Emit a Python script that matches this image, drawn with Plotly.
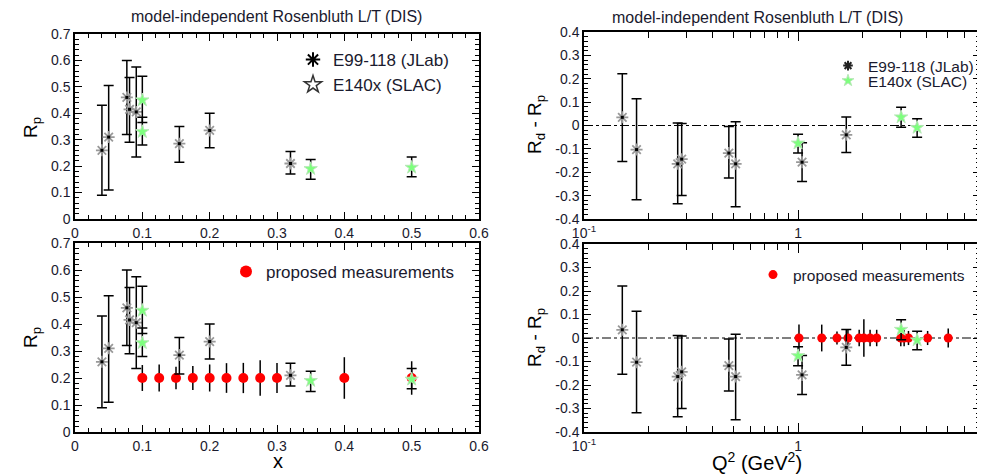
import plotly.graph_objects as go

# ---------------- data: R_p vs x ----------------
x_jlab = [0.04, 0.05, 0.077, 0.081, 0.091, 0.155, 0.2, 0.32]
R_jlab = [0.26, 0.31, 0.46, 0.415, 0.405, 0.285, 0.335, 0.21]
hi_jlab = [0.43, 0.505, 0.60, 0.535, 0.575, 0.35, 0.40, 0.255]
lo_jlab = [0.09, 0.11, 0.32, 0.29, 0.235, 0.215, 0.27, 0.17]

x_slac = [0.1, 0.1, 0.35, 0.5]
R_slac = [0.45, 0.33, 0.19, 0.195]
hi_slac = [0.54, 0.385, 0.225, 0.235]
lo_slac = [0.365, 0.28, 0.15, 0.16]

x_prop = [0.1, 0.125, 0.15, 0.175, 0.2, 0.225, 0.25, 0.275, 0.3, 0.4, 0.5]
R_prop = [0.2, 0.2, 0.2, 0.2, 0.2, 0.2, 0.2, 0.2, 0.2, 0.2, 0.2]
err_prop = [0.048, 0.05, 0.042, 0.044, 0.05, 0.055, 0.056, 0.066, 0.056, 0.077, 0.062]

# ---------------- data: R_d - R_p vs Q^2 ----------------
q2_jlab = [0.151, 0.176, 0.274, 0.286, 0.475, 0.511, 1.044, 1.68]
d_jlab = [0.035, -0.103, -0.164, -0.144, -0.118, -0.164, -0.157, -0.04]
dhi_jlab = [0.221, 0.114, 0.011, 0.009, -0.004, 0.016, -0.074, 0.036]
dlo_jlab = [-0.154, -0.318, -0.335, -0.30, -0.225, -0.348, -0.24, -0.116]

q2_slac = [1.0, 3.03, 3.6]
d_slac = [-0.076, 0.036, -0.009]
dhi_slac = [-0.037, 0.078, 0.029]
dlo_slac = [-0.118, -0.007, -0.05]

q2_prop = [1.01, 1.29, 1.52, 1.71, 1.93, 2.03, 2.17, 2.33, 3.02, 3.13, 3.28, 4.03, 5.03]
d_prop = [0, 0, 0, 0, 0, 0, 0, 0, 0, 0, 0, 0, 0]
derr_prop = [0.057, 0.057, 0.028, 0.035, 0.035, 0.08, 0.035, 0.035, 0.035, 0.035, 0.03, 0.03, 0.04]

title_text = "model-independent Rosenbluth L/T (DIS)"
y_ticks_right = [-0.4, -0.3, -0.2, -0.1, 0, 0.1, 0.2, 0.3, 0.4]
y_ticktext_right = ["-0.4", "-0.3", "-0.2", "-0.1", "0", "0.1", "0.2", "0.3", "0.4"]
q2_ticks = [0.1, 1]
q2_ticktext = ["10<sup>-1</sup>", "1"]
q2_minor = [0.2, 0.3, 0.4, 0.5, 0.6, 0.7, 0.8, 0.9, 2, 3, 4, 5, 6, 7]

# the page body has an 8px margin, so the figure is sized to fill the rest of the window
OFF = 8
W, H = 985 - OFF, 476 - OFF
FONT = "Liberation Sans, Arial, sans-serif"
GRAY = "#999999"
GREEN = "#7dff7d"
TXT = "#1a1a2e"


def px(v):
    return (v - OFF) / W


def py(v):
    return 1 - (v - OFF) / H


def errs(y, hi, lo):
    return [h - c for h, c in zip(hi, y)], [c - l for c, l in zip(y, lo)]


fig = go.Figure()


def add_data(xs, ys, hi, lo, xa, ya, cap):
    ep, em = errs(ys, hi, lo)
    fig.add_trace(go.Scatter(
        x=xs, y=ys, mode="markers", xaxis=xa, yaxis=ya, showlegend=False,
        marker=dict(symbol="asterisk-open", size=10, color=GRAY, line=dict(color=GRAY, width=1.8)),
        error_y=dict(type="data", symmetric=False, array=ep, arrayminus=em,
                     color="black", thickness=1.5, width=cap)))
    fig.add_trace(go.Scatter(
        x=xs, y=ys, mode="markers", xaxis=xa, yaxis=ya, showlegend=False,
        marker=dict(symbol="square", size=3, color="black")))


def add_slac(xs, ys, hi, lo, xa, ya, cap):
    ep, em = errs(ys, hi, lo)
    fig.add_trace(go.Scatter(
        x=xs, y=ys, mode="markers", xaxis=xa, yaxis=ya, showlegend=False,
        marker=dict(symbol="star", size=10, color=GREEN, line=dict(color="#b8e8b8", width=1)),
        error_y=dict(type="data", symmetric=False, array=ep, arrayminus=em,
                     color="black", thickness=1.5, width=cap)))


def add_prop(xs, ys, er, xa, ya, size):
    fig.add_trace(go.Scatter(
        x=xs, y=ys, mode="markers", xaxis=xa, yaxis=ya, showlegend=False,
        marker=dict(symbol="circle", size=size, color="#ff0000"),
        error_y=dict(type="data", array=er, color="black", thickness=1.5, width=0)))


# left top
add_data(x_jlab, R_jlab, hi_jlab, lo_jlab, "x", "y", 5)
add_slac(x_slac, R_slac, hi_slac, lo_slac, "x", "y", 5)
# left bottom
add_prop(x_prop, R_prop, err_prop, "x2", "y2", 10)
add_data(x_jlab, R_jlab, hi_jlab, lo_jlab, "x2", "y2", 5)
add_slac(x_slac, R_slac, hi_slac, lo_slac, "x2", "y2", 5)
# right top
add_data(q2_jlab, d_jlab, dhi_jlab, dlo_jlab, "x3", "y3", 5)
add_slac(q2_slac, d_slac, dhi_slac, dlo_slac, "x3", "y3", 5)
# right bottom
add_prop(q2_prop, d_prop, derr_prop, "x4", "y4", 9)
add_data(q2_jlab, d_jlab, dhi_jlab, dlo_jlab, "x4", "y4", 5)
add_slac(q2_slac, d_slac, dhi_slac, dlo_slac, "x4", "y4", 5)


# legend-only entries
def leg(name, legend, xa, ya, marker):
    fig.add_trace(go.Scatter(x=[None], y=[None], mode="markers", name=name, legend=legend,
                             xaxis=xa, yaxis=ya, marker=marker, showlegend=True))


leg("E99-118 (JLab)", "legend", "x", "y",
    dict(symbol="asterisk-open", size=12, color="black", line=dict(color="black", width=2)))
leg("E140x (SLAC)", "legend2", "x", "y",
    dict(symbol="star-open", size=13, color="#333", line=dict(color="#333", width=1.5)))
leg("proposed measurements", "legend5", "x2", "y2",
    dict(symbol="circle", size=12, color="#ff0000"))
leg("E99-118 (JLab)", "legend3", "x3", "y3",
    dict(symbol="asterisk-open", size=8, color="#222", line=dict(color="#222", width=2)))
leg("E140x (SLAC)", "legend4", "x3", "y3",
    dict(symbol="star", size=9, color=GREEN, line=dict(color="#b8e8b8", width=1)))
leg("proposed measurements", "legend6", "x4", "y4",
    dict(symbol="circle", size=9, color="#ff0000"))

axis_common = dict(showline=True, linecolor="black", linewidth=1.5, mirror="allticks",
                   ticks="inside", ticklen=7, tickwidth=1.3, tickcolor="black",
                   showgrid=False, zeroline=False, automargin=False,
                   tickfont=dict(family=FONT, size=14, color=TXT))

LX = [px(75), px(479)]
RX = [px(584), px(980)]
TOPL = [py(219), py(34)]
BOTL = [py(432), py(243)]
TOPR = [py(219), py(32)]
BOTR = [py(432), py(244)]

minor_lin = dict(ticks="inside", ticklen=4, tickwidth=1, tickcolor="black", dtick=0.02)
minor_log = dict(tickvals=q2_minor, ticks="inside", ticklen=6, tickwidth=1.2, tickcolor="black")

fig.update_layout(
    width=W, height=H, margin=dict(l=0, r=0, t=0, b=0, autoexpand=False),
    paper_bgcolor="white", plot_bgcolor="white",
    font=dict(family=FONT, color="black"),
    xaxis=dict(axis_common, domain=LX, range=[0, 0.6], dtick=0.1, minor=minor_lin, anchor="y"),
    yaxis=dict(axis_common, domain=TOPL, range=[0, 0.7], dtick=0.1, minor=minor_lin, anchor="x"),
    xaxis2=dict(axis_common, domain=LX, range=[0, 0.6], dtick=0.1, minor=minor_lin, anchor="y2"),
    yaxis2=dict(axis_common, domain=BOTL, range=[0, 0.7], dtick=0.1, minor=minor_lin, anchor="x2"),
    xaxis3=dict(axis_common, domain=RX, type="log", range=[-1, 0.85], tickmode="array",
                tickvals=q2_ticks, ticktext=q2_ticktext, ticklen=9, anchor="y3", minor=minor_log),
    yaxis3=dict(axis_common, domain=TOPR, range=[-0.4, 0.4], tickmode="array",
                tickvals=y_ticks_right, ticktext=y_ticktext_right, anchor="x3", minor=minor_lin),
    xaxis4=dict(axis_common, domain=RX, type="log", range=[-1, 0.85], tickmode="array",
                tickvals=q2_ticks, ticktext=q2_ticktext, ticklen=9, anchor="y4", minor=minor_log),
    yaxis4=dict(axis_common, domain=BOTR, range=[-0.4, 0.4], tickmode="array",
                tickvals=y_ticks_right, ticktext=y_ticktext_right, anchor="x4", minor=minor_lin),
)


def legend_box(xp, yp, size):
    return dict(x=px(xp), y=py(yp), xanchor="left", yanchor="middle",
                bgcolor="rgba(0,0,0,0)", borderwidth=0,
                font=dict(family=FONT, size=size, color=TXT))


fig.update_layout(
    legend=legend_box(293, 60, 17),
    legend2=legend_box(293, 85, 17),
    legend5=legend_box(226, 272, 17),
    legend3=legend_box(828, 66, 15.5),
    legend4=legend_box(828, 81, 15.5),
    legend6=legend_box(753, 275, 15.5),
)

# zero reference lines on the right panels
for xr, yr in (("x3 domain", "y3"), ("x4 domain", "y4")):
    fig.add_shape(type="line", xref=xr, yref=yr, x0=0, x1=1, y0=0, y1=0,
                  line=dict(color="black", width=1, dash="dashdot"), layer="below")

ann = [
    dict(text=title_text, x=px(276), y=py(16), size=16, color=TXT),
    dict(text=title_text, x=px(757), y=py(17), size=16, color=TXT),
    dict(text="R<sub>p</sub>", x=px(32), y=py(128), angle=-90, size=19, color="black"),
    dict(text="R<sub>p</sub>", x=px(32), y=py(338), angle=-90, size=19, color="black"),
    dict(text="R<sub>d</sub> - R<sub>p</sub>", x=px(536), y=py(125), angle=-90, size=19, color="black"),
    dict(text="R<sub>d</sub> - R<sub>p</sub>", x=px(536), y=py(338), angle=-90, size=19, color="black"),
    dict(text="x", x=px(278), y=py(461), angle=0, size=20, color="black"),
    dict(text="Q<sup>2</sup> (GeV<sup>2</sup>)", x=px(757), y=py(461), angle=0, size=20, color="black"),
]
for a in ann:
    fig.add_annotation(text=a["text"], x=a["x"], y=a["y"], xref="paper", yref="paper",
                       showarrow=False, xanchor="center", yanchor="middle",
                       textangle=a.get("angle", 0),
                       font=dict(family=FONT, color=a["color"], size=a["size"]))

fig.write_html("out.html")
